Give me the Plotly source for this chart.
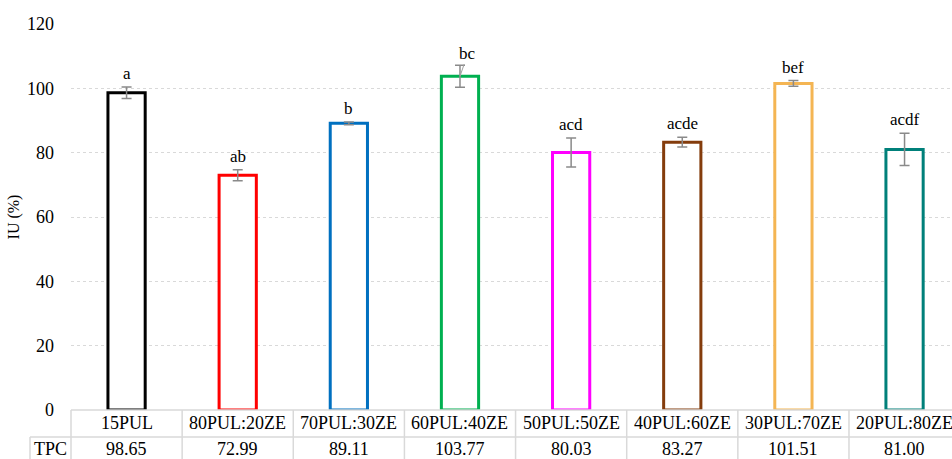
import plotly.graph_objects as go

categories = ["15PUL", "80PUL:20ZE", "70PUL:30ZE", "60PUL:40ZE", "50PUL:50ZE",
              "40PUL:60ZE", "30PUL:70ZE", "20PUL:80ZE"]
iu_values = [98.65, 72.99, 89.11, 103.77, 80.03, 83.27, 101.51, 81.00]
iu_errors = [1.8, 1.7, 0.4, 3.4, 4.5, 1.5, 0.9, 5.0]
sig_letters = ["a", "ab", "b", "bc", "acd", "acde", "bef", "acdf"]
row_label = "TPC"
outline_colors = ["#000000", "#FF0000", "#0070C0", "#00B050", "#FF00FF",
                  "#843C0C", "#F4B553", "#00807A"]

W, H = 952, 459
ml, mt, mb = 71, 24, 49
plot_w = W - ml
plot_h = H - mt - mb
cat_px = 111.14
x0 = -0.5
x1 = x0 + plot_w / cat_px

FONT = "'Liberation Serif', 'Times New Roman', 'DejaVu Serif', serif"
GRID = "#d9d9d9"

fig = go.Figure()
fig.add_trace(go.Bar(
    x=list(range(len(categories))), y=iu_values, width=0.335,
    marker=dict(color="white", line=dict(color=outline_colors, width=3)),
    error_y=dict(type="data", array=iu_errors, visible=True,
                 color="#8a8a8a", thickness=1.5, width=5),
    showlegend=False, hoverinfo="skip",
))

anns = []
for i, (v, e, s) in enumerate(zip(iu_values, iu_errors, sig_letters)):
    if s == "bc":
        anns.append(dict(x=i, y=v, xref="x", yref="y", text=s, showarrow=True,
                         arrowhead=0, arrowwidth=1, arrowcolor="#a0a0a0",
                         ax=8, ay=-23, font=dict(family=FONT, size=17, color="#000")))
    else:
        anns.append(dict(x=i, y=v + e, xref="x", yref="y", text=s, showarrow=False,
                         yanchor="bottom", yshift=2,
                         font=dict(family=FONT, size=17, color="#000")))

def px_x(i):
    return (i - x0) / (x1 - x0)

row1 = -13 / plot_h
row2 = -39 / plot_h
for i, (c, v) in enumerate(zip(categories, iu_values)):
    anns.append(dict(x=px_x(i), y=row1, xref="paper", yref="paper", text=c,
                     showarrow=False, xanchor="center", yanchor="middle",
                     font=dict(family=FONT, size=18, color="#000")))
    anns.append(dict(x=px_x(i), y=row2, xref="paper", yref="paper", text=f"{v:.2f}",
                     showarrow=False, xanchor="center", yanchor="middle",
                     font=dict(family=FONT, size=18, color="#000")))
left_x = (30 - ml) / plot_w
anns.append(dict(x=(left_x + 0) / 2, y=row2, xref="paper", yref="paper", text=row_label,
                 showarrow=False, xanchor="center", yanchor="middle",
                 font=dict(family=FONT, size=18, color="#000")))

shapes = []
bottom = -mb / plot_h
mid = -27 / plot_h
line = dict(color=GRID, width=1.5)
shapes.append(dict(type="line", xref="paper", yref="paper", x0=0, x1=1.02, y0=0, y1=0, line=line))
shapes.append(dict(type="line", xref="paper", yref="paper", x0=left_x, x1=1.02, y0=mid, y1=mid, line=line))
shapes.append(dict(type="line", xref="paper", yref="paper", x0=left_x, x1=left_x, y0=mid, y1=bottom, line=line))
for i in range(len(categories)):
    xb = px_x(i - 0.5)
    shapes.append(dict(type="line", xref="paper", yref="paper", x0=xb, x1=xb,
                       y0=0, y1=bottom, line=line))

fig.update_layout(
    width=W, height=H,
    margin=dict(l=ml, r=0, t=mt, b=mb),
    paper_bgcolor="white", plot_bgcolor="white",
    font=dict(family=FONT, size=18, color="#000"),
    annotations=anns, shapes=shapes,
    xaxis=dict(range=[x0, x1], showticklabels=False, showgrid=False,
               zeroline=False, showline=False, ticks=""),
    yaxis=dict(range=[0, 120], dtick=20, showgrid=True, gridcolor=GRID,
               griddash="dot", gridwidth=1, zeroline=False, showline=False,
               ticks="", ticklabelstandoff=16,
               tickfont=dict(family=FONT, size=18, color="#000"),
               title=dict(text="IU (%)", standoff=3,
                          font=dict(family=FONT, size=16, color="#000"))),
)

fig.write_html("out.html")
